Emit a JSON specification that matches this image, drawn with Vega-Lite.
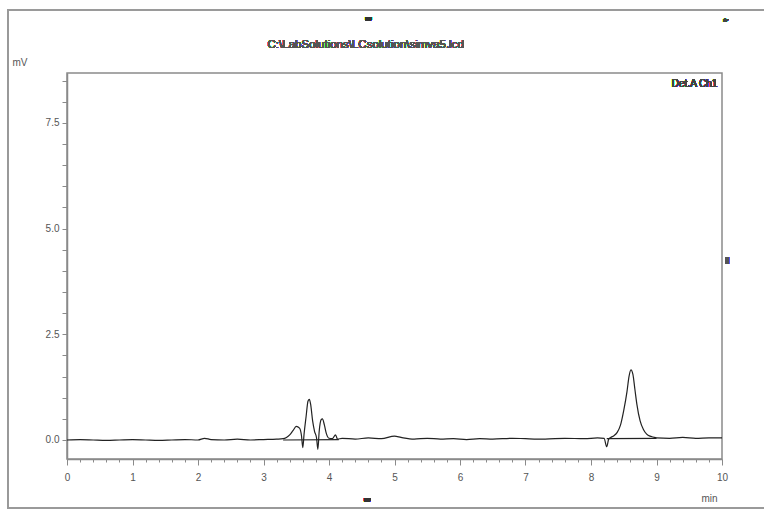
{
  "$schema": "https://vega.github.io/schema/vega-lite/v6.json",
  "autosize": {"type": "none"},
  "width": 655,
  "height": 386,
  "padding": {"left": 67, "top": 73, "right": 42, "bottom": 51},
  "background": "white",
  "config": {
    "view": {"stroke": "#8a8a8a", "strokeWidth": 1.5},
    "axis": {
      "labelFont": "Liberation Sans",
      "labelFontSize": 10,
      "labelColor": "#555",
      "labelOverlap": false,
      "titleFont": "Liberation Sans",
      "titleFontSize": 10,
      "titleColor": "#555",
      "titleFontWeight": "normal",
      "domainColor": "#8a8a8a",
      "domainWidth": 1.5,
      "tickColor": "#8a8a8a",
      "grid": false
    }
  },
  "data": {
    "values": [
      {"series": "signal", "t": 0.0, "v": 0.0},
      {"series": "signal", "t": 0.2, "v": 0.01},
      {"series": "signal", "t": 0.4, "v": 0.0},
      {"series": "signal", "t": 0.6, "v": -0.01},
      {"series": "signal", "t": 0.8, "v": 0.0},
      {"series": "signal", "t": 1.0, "v": 0.01},
      {"series": "signal", "t": 1.2, "v": 0.0},
      {"series": "signal", "t": 1.4, "v": -0.01},
      {"series": "signal", "t": 1.6, "v": 0.0},
      {"series": "signal", "t": 1.8, "v": 0.01},
      {"series": "signal", "t": 2.0, "v": 0.0},
      {"series": "signal", "t": 2.1, "v": 0.04},
      {"series": "signal", "t": 2.2, "v": 0.01},
      {"series": "signal", "t": 2.4, "v": 0.0},
      {"series": "signal", "t": 2.6, "v": 0.02},
      {"series": "signal", "t": 2.8, "v": 0.0},
      {"series": "signal", "t": 3.0, "v": 0.01},
      {"series": "signal", "t": 3.2, "v": 0.02},
      {"series": "signal", "t": 3.3, "v": 0.03},
      {"series": "signal", "t": 3.35, "v": 0.06},
      {"series": "signal", "t": 3.4, "v": 0.12},
      {"series": "signal", "t": 3.45, "v": 0.22},
      {"series": "signal", "t": 3.5, "v": 0.32},
      {"series": "signal", "t": 3.55, "v": 0.28},
      {"series": "signal", "t": 3.58, "v": 0.1},
      {"series": "signal", "t": 3.6, "v": -0.18},
      {"series": "signal", "t": 3.62, "v": 0.15},
      {"series": "signal", "t": 3.65, "v": 0.55},
      {"series": "signal", "t": 3.68, "v": 0.92},
      {"series": "signal", "t": 3.7, "v": 0.96},
      {"series": "signal", "t": 3.72, "v": 0.84},
      {"series": "signal", "t": 3.75, "v": 0.45},
      {"series": "signal", "t": 3.78, "v": 0.2},
      {"series": "signal", "t": 3.81, "v": 0.05},
      {"series": "signal", "t": 3.83, "v": -0.22},
      {"series": "signal", "t": 3.85, "v": 0.2},
      {"series": "signal", "t": 3.88, "v": 0.48},
      {"series": "signal", "t": 3.9, "v": 0.5},
      {"series": "signal", "t": 3.93, "v": 0.35},
      {"series": "signal", "t": 3.96, "v": 0.15},
      {"series": "signal", "t": 4.0, "v": 0.04},
      {"series": "signal", "t": 4.05, "v": 0.03},
      {"series": "signal", "t": 4.1, "v": 0.12},
      {"series": "signal", "t": 4.13, "v": 0.02},
      {"series": "signal", "t": 4.2, "v": 0.04},
      {"series": "signal", "t": 4.4, "v": 0.02},
      {"series": "signal", "t": 4.6, "v": 0.05},
      {"series": "signal", "t": 4.8, "v": 0.03},
      {"series": "signal", "t": 5.0, "v": 0.09},
      {"series": "signal", "t": 5.1, "v": 0.06},
      {"series": "signal", "t": 5.3, "v": 0.02},
      {"series": "signal", "t": 5.5, "v": 0.04},
      {"series": "signal", "t": 5.7, "v": 0.02},
      {"series": "signal", "t": 5.9, "v": 0.03},
      {"series": "signal", "t": 6.1, "v": 0.01},
      {"series": "signal", "t": 6.3, "v": 0.03},
      {"series": "signal", "t": 6.5, "v": 0.02},
      {"series": "signal", "t": 6.8, "v": 0.04},
      {"series": "signal", "t": 7.0, "v": 0.03},
      {"series": "signal", "t": 7.3, "v": 0.02},
      {"series": "signal", "t": 7.6, "v": 0.04},
      {"series": "signal", "t": 7.9, "v": 0.03},
      {"series": "signal", "t": 8.1, "v": 0.05},
      {"series": "signal", "t": 8.2, "v": 0.04},
      {"series": "signal", "t": 8.24, "v": -0.16},
      {"series": "signal", "t": 8.27, "v": 0.02},
      {"series": "signal", "t": 8.3, "v": 0.06},
      {"series": "signal", "t": 8.35, "v": 0.1},
      {"series": "signal", "t": 8.4, "v": 0.18},
      {"series": "signal", "t": 8.45, "v": 0.35},
      {"series": "signal", "t": 8.5, "v": 0.7},
      {"series": "signal", "t": 8.55, "v": 1.15},
      {"series": "signal", "t": 8.58, "v": 1.5},
      {"series": "signal", "t": 8.61, "v": 1.66},
      {"series": "signal", "t": 8.64, "v": 1.55},
      {"series": "signal", "t": 8.67, "v": 1.2},
      {"series": "signal", "t": 8.7, "v": 0.85},
      {"series": "signal", "t": 8.75, "v": 0.45},
      {"series": "signal", "t": 8.8, "v": 0.25},
      {"series": "signal", "t": 8.85, "v": 0.14},
      {"series": "signal", "t": 8.9, "v": 0.09},
      {"series": "signal", "t": 8.95, "v": 0.07},
      {"series": "signal", "t": 9.0, "v": 0.05},
      {"series": "signal", "t": 9.2, "v": 0.04},
      {"series": "signal", "t": 9.4, "v": 0.06},
      {"series": "signal", "t": 9.6, "v": 0.04},
      {"series": "signal", "t": 9.8, "v": 0.05},
      {"series": "signal", "t": 10.0, "v": 0.05},
      {"series": "base1", "t": 3.3, "v": 0.0},
      {"series": "base1", "t": 4.15, "v": 0.01},
      {"series": "base2", "t": 8.24, "v": 0.03},
      {"series": "base2", "t": 9.0, "v": 0.04}
    ]
  },
  "layer": [
    {
      "mark": {"type": "line", "color": "#222", "strokeWidth": 1.2, "interpolate": "monotone"},
      "encoding": {
        "x": {
          "field": "t",
          "type": "quantitative",
          "scale": {"domain": [0, 10], "nice": false, "zero": false},
          "axis": {
            "title": "min",
            "titleX": 642,
            "titleY": 34,
            "titleAlign": "center",
            "tickCount": 200,
            "values": [0, 0.2, 0.4, 0.6, 0.8, 1, 1.2, 1.4, 1.6, 1.8, 2, 2.2, 2.4, 2.6, 2.8, 3, 3.2, 3.4, 3.6, 3.8, 4, 4.2, 4.4, 4.6, 4.8, 5, 5.2, 5.4, 5.6, 5.8, 6, 6.2, 6.4, 6.6, 6.8, 7, 7.2, 7.4, 7.6, 7.8, 8, 8.2, 8.4, 8.6, 8.8, 9, 9.2, 9.4, 9.6, 9.8, 10],
            "labelExpr": "abs(datum.value - round(datum.value)) < 0.001 ? format(datum.value, 'd') : ''",
            "tickSize": {"condition": {"test": "abs(datum.value - round(datum.value)) < 0.001", "value": 6}, "value": 3},
            "labelPadding": 7,
            "labelFlush": false,
            "labelOverlap": false
          }
        },
        "y": {
          "field": "v",
          "type": "quantitative",
          "scale": {"domain": [-0.45, 8.68], "nice": false, "zero": false},
          "axis": {
            "title": "mV",
            "titleAngle": 0,
            "titleX": -55,
            "titleY": -6,
            "titleAlign": "left",
            "titleBaseline": "bottom",
            "tickCount": 200,
            "values": [0, 0.5, 1, 1.5, 2, 2.5, 3, 3.5, 4, 4.5, 5, 5.5, 6, 6.5, 7, 7.5, 8, 8.5],
            "labelExpr": "indexof([0, 2.5, 5, 7.5], datum.value) >= 0 ? format(datum.value, '.1f') : ''",
            "tickSize": 5,
            "labelPadding": 3,
            "labelOverlap": false
          }
        },
        "detail": {"field": "series", "type": "nominal"}
      }
    },
    {
      "mark": {"type": "rect", "fill": null, "stroke": "#9a9a9a", "strokeWidth": 1.5, "clip": false},
      "encoding": {
        "x": {"datum": -0.9, "type": "quantitative"},
        "x2": {"datum": 10.8},
        "y": {"datum": 10.17, "type": "quantitative"},
        "y2": {"datum": -1.61}
      }
    },
    {
      "mark": {"type": "text", "align": "right", "baseline": "middle", "font": "Liberation Sans", "fontSize": 10, "color": "#444", "text": "Det.A Ch1"},
      "encoding": {
        "x": {"datum": 9.93, "type": "quantitative"},
        "y": {"datum": 8.43, "type": "quantitative"}
      }
    },
    {
      "mark": {"type": "text", "align": "center", "baseline": "middle", "font": "Liberation Sans", "fontSize": 11.5, "color": "#555", "clip": false, "text": "C:\\LabSolutions\\LCsolution\\simva5.lcd"},
      "encoding": {
        "x": {"datum": 4.56, "type": "quantitative"},
        "y": {"datum": 9.34, "type": "quantitative"}
      }
    },
    {
      "mark": {"type": "text", "align": "center", "baseline": "middle", "font": "DejaVu Sans", "fontSize": 8, "color": "#333", "clip": false, "text": "▬"},
      "encoding": {
        "x": {"datum": 4.6, "type": "quantitative"},
        "y": {"datum": 9.96, "type": "quantitative"}
      }
    },
    {
      "mark": {"type": "text", "align": "center", "baseline": "middle", "font": "DejaVu Sans", "fontSize": 8, "color": "#333", "clip": false, "text": "▬"},
      "encoding": {
        "x": {"datum": 4.58, "type": "quantitative"},
        "y": {"datum": -1.42, "type": "quantitative"}
      }
    },
    {
      "mark": {"type": "text", "align": "center", "baseline": "middle", "font": "DejaVu Sans", "fontSize": 6, "color": "#444", "clip": false, "text": "▪·"},
      "encoding": {
        "x": {"datum": 10.06, "type": "quantitative"},
        "y": {"datum": 9.93, "type": "quantitative"}
      }
    },
    {
      "mark": {"type": "text", "align": "center", "baseline": "middle", "font": "DejaVu Sans", "fontSize": 8, "color": "#555", "clip": false, "text": "II"},
      "encoding": {
        "x": {"datum": 10.08, "type": "quantitative"},
        "y": {"datum": 4.21, "type": "quantitative"}
      }
    }
  ]
}
